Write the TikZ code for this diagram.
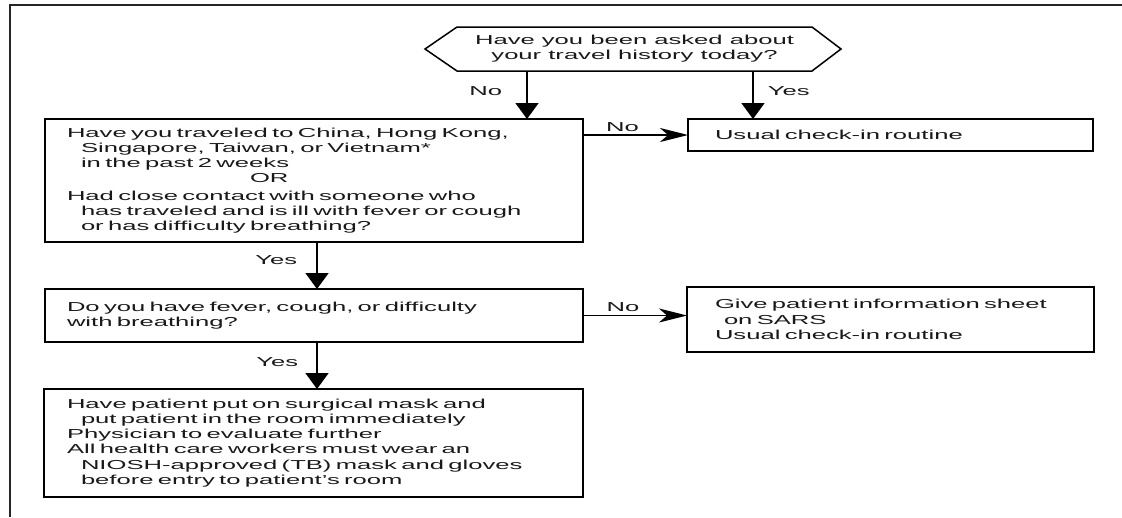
\documentclass[tikz,border=0pt]{standalone}
\usepackage{fontspec}
\setmainfont{Liberation Sans}[FakeStretch=1.97]
\usetikzlibrary{arrows.meta}
\newcommand\ind{\hspace*{14pt}}
\begin{document}
\begin{tikzpicture}[x=1pt,y=-1pt,
  font=\fontsize{13}{15.2}\selectfont,
  box/.style={draw, line width=1.8pt, rectangle, anchor=north west, align=left,
    inner xsep=0pt, inner ysep=0pt, outer sep=0pt, text=black!90},
  qbox/.style={rectangle, align=center, inner sep=0pt, outer sep=0pt,
    minimum width=355pt, minimum height=44pt, text=black!90},
  hexline/.style={draw, line width=1.5pt, line join=miter},
  varrow/.style={line width=1.8pt, -{Triangle[width=23pt,length=16pt]}},
  harrow/.style={line width=1.5pt, -{Stealth[width=14pt,length=28pt,inset=8pt]}},
  lbl/.style={inner sep=0pt, text=black!90},
  frame/.style={line width=2.4pt, black!85}
]
\useasboundingbox (0,0) rectangle (1122,517);
% frame
\coordinate (fb) at (10,517);
\coordinate (fc) at (10,5);
\coordinate (fr) at (1122,5);
\draw[frame] (fb) -- (fc) -- (fr);

% question hexagon
\node[qbox] (q0) at (634.5,49) {Have you been asked about\\your travel history today?};
\draw[hexline] ([xshift=-32pt]q0.west) -- (q0.north west) -- (q0.north east)
  -- ([xshift=29pt]q0.east) -- (q0.south east) -- (q0.south west) -- cycle;

% boxes
\node[box, minimum width=538pt, minimum height=123pt, text width=494pt] (b1) at (45,119)
 {Have you traveled to China, Hong Kong,\\
  \ind Singapore, Taiwan, or Vietnam*\\
  \ind in the past 2 weeks\\
  \hspace*{183pt}OR\\[2pt]
  Had close contact with someone who\\
  \ind\mbox{has traveled and is ill with fever or cough}\\
  \ind or has difficulty breathing?};

\node[box, minimum width=405pt, minimum height=32pt, text width=351pt] (u1) at (688,119)
 {Usual check-in routine};

\node[box, minimum width=538pt, minimum height=53pt, text width=494pt] (b2) at (45,289)
 {Do you have fever, cough, or difficulty\\with breathing?};

\node[box, minimum width=407pt, minimum height=65pt, text width=351pt] (s1) at (687,287)
 {Give patient information sheet\\
  \hspace*{9pt}on SARS\\
  Usual check-in routine};

\node[box, minimum width=539pt, minimum height=108pt, text width=493pt] (b3) at (44,389)
 {Have patient put on surgical mask and\\
  \ind put patient in the room immediately\\
  Physician to evaluate further\\
  All health care workers must wear an\\
  \ind\mbox{NIOSH-approved (TB) mask and gloves}\\
  \ind before entry to patient's room};

% connectors
\draw[varrow] ([xshift=70pt]q0.south west) --
  node[lbl, midway, left=24pt, yshift=4pt] {No}
  ([xshift=70pt]q0.south west |- b1.north);
\draw[varrow] ([xshift=-59pt]q0.south east) --
  node[lbl, midway, right=14pt, yshift=4pt] {Yes}
  ([xshift=-59pt]q0.south east |- u1.north);
\draw[harrow] (b1.east |- u1.west) --
  node[lbl, midway, above=3pt, xshift=-13pt] {No} (u1.west);
\draw[varrow] ([xshift=272pt]b1.south west) --
  node[lbl, midway, left=19pt, yshift=5pt] {Yes}
  ([xshift=272pt]b1.south west |- b2.north);
\draw[harrow] (b2.east) --
  node[lbl, midway, above=3pt, xshift=-12pt] {No} (b2.east -| s1.west);
\draw[varrow] ([xshift=272pt]b2.south west) --
  node[lbl, midway, left=18pt, yshift=3pt] {Yes}
  ([xshift=272pt]b2.south west |- b3.north);
\end{tikzpicture}
\end{document}
